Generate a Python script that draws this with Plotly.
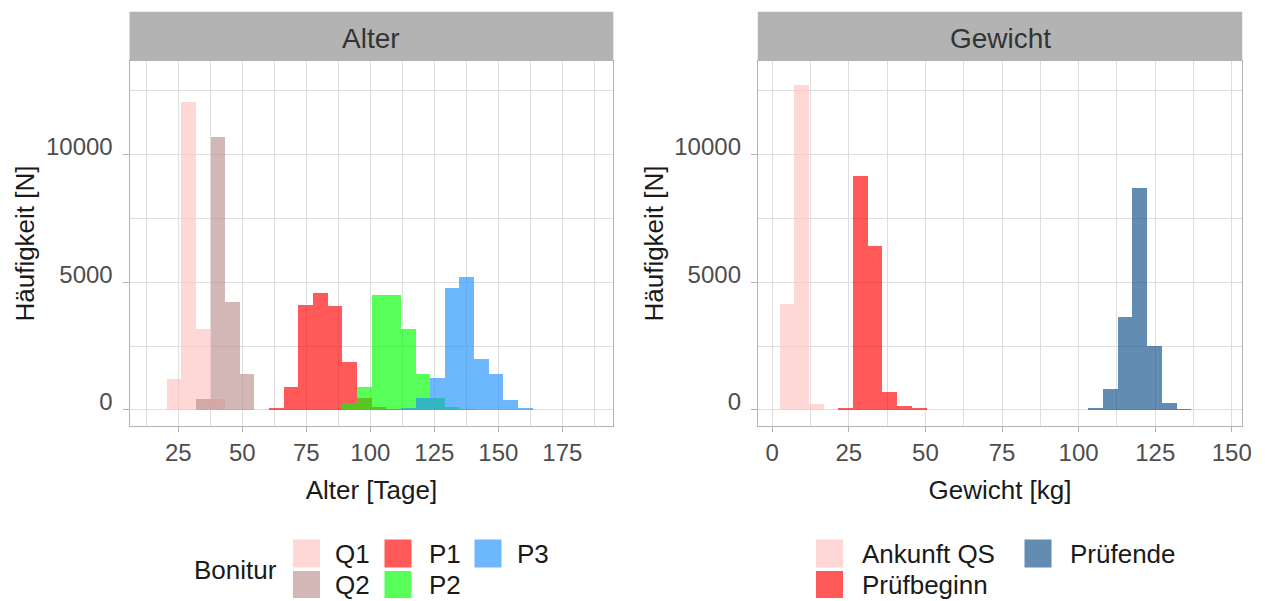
import plotly.graph_objects as go

# ---- Histogram data: counts per bin (30 bins per panel) ----
# Alter [Tage]
alter_bin_start = 14.5
alter_bin_width = 5.72
alter_q1 = [0, 1200, 12060, 3170, 430, 0, 0, 0, 0, 0, 0, 0, 0, 0, 0,
            0, 0, 0, 0, 0, 0, 0, 0, 0, 0, 0, 0, 0, 0, 0]
alter_q2 = [0, 0, 0, 430, 10680, 4215, 1420, 0, 0, 0, 0, 0, 0, 0, 0,
            0, 0, 0, 0, 0, 0, 0, 0, 0, 0, 0, 0, 0, 0, 0]
alter_p1 = [0, 0, 0, 0, 0, 0, 0, 0, 90, 913, 4090, 4568, 4080, 1892, 460,
            100, 40, 0, 0, 0, 0, 0, 0, 0, 0, 0, 0, 0, 0, 0]
alter_p2 = [0, 0, 0, 0, 0, 0, 0, 0, 0, 0, 0, 0, 0, 275, 900,
            4500, 4490, 3158, 1409, 460, 100, 40, 0, 0, 0, 0, 0, 0, 0, 0]
alter_p3 = [0, 0, 0, 0, 0, 0, 0, 0, 0, 0, 0, 0, 0, 0, 0,
            0, 0, 65, 460, 1260, 4763, 5194, 1984, 1409, 400, 65, 0, 0, 0, 0]

# Gewicht [kg]
gewicht_bin_start = 2.3
gewicht_bin_width = 4.8
gewicht_ankunft = [4150, 12724, 222, 0, 0, 0, 0, 0, 0, 0, 0, 0, 0, 0, 0,
                   0, 0, 0, 0, 0, 0, 0, 0, 0, 0, 0, 0, 0, 0, 0]
gewicht_pruefbeginn = [0, 0, 0, 0, 65, 9135, 6395, 718, 157, 65, 0, 0, 0, 0, 0,
                       0, 0, 0, 0, 0, 0, 0, 0, 0, 0, 0, 0, 0, 0, 0]
gewicht_pruefende = [0, 0, 0, 0, 0, 0, 0, 0, 0, 0, 0, 0, 0, 0, 0,
                     0, 0, 0, 0, 0, 0, 91, 809, 3641, 8679, 2493, 261, 52, 0, 0]

alter_groups = ["Q1", "Q2", "P1", "P2", "P3"]
gewicht_groups = ["Ankunft QS", "Prüfbeginn", "Prüfende"]

alter_ticks = [25, 50, 75, 100, 125, 150, 175]
gewicht_ticks = [0, 25, 50, 75, 100, 125, 150]
count_ticks = [0, 5000, 10000]
count_tick_labels = ["0", "5000", "10000"]

# ---- Styling ----
ALPHA = 0.65
colors = {
    "Q1": (255, 193, 193),
    "Q2": (188, 143, 143),
    "P1": (255, 0, 0),
    "P2": (0, 255, 0),
    "P3": (30, 144, 255),
    "Ankunft QS": (255, 193, 193),
    "Prüfbeginn": (255, 0, 0),
    "Prüfende": (16, 78, 139),
}


def rgba(name):
    r, g, b = colors[name]
    return f"rgba({r},{g},{b},{ALPHA})"


FONT = "Liberation Sans, Arial, sans-serif"
TICK_COLOR = "#4D4D4D"
TEXT_COLOR = "#1A1A1A"
GRID = "#DEDEDE"
BORDER = "#B3B3B3"

W, H = 1265, 601


def px_x(p):
    return p / W


def px_y(p):
    return 1 - p / H


fig = go.Figure()


def add_hist(counts, start, width, name, xa, ya):
    xs, ys = [], []
    for i, c in enumerate(counts):
        if c > 0:
            xs.append(start + width * (i + 0.5))
            ys.append(c)
    fig.add_trace(go.Bar(
        x=xs, y=ys, width=width, name=name,
        marker=dict(color=rgba(name), line=dict(width=0)),
        xaxis=xa, yaxis=ya, showlegend=False,
        hovertemplate=name + ": %{y}<extra></extra>",
    ))


for name, counts in zip(alter_groups, [alter_q1, alter_q2, alter_p1, alter_p2, alter_p3]):
    add_hist(counts, alter_bin_start, alter_bin_width, name, "x", "y")
for name, counts in zip(gewicht_groups, [gewicht_ankunft, gewicht_pruefbeginn, gewicht_pruefende]):
    add_hist(counts, gewicht_bin_start, gewicht_bin_width, name, "x2", "y2")

# panel geometry (pixels)
PANEL_TOP, PANEL_BOTTOM = 61, 426
STRIP_TOP = 11.7
left_px = (129.5, 613.3)
right_px = (757.8, 1242.2)

y_dom = [px_y(PANEL_BOTTOM), px_y(PANEL_TOP)]
y_range = [-626, 13649]


def xaxis_style(domain, rng, ticks, title, anchor):
    return dict(
        domain=domain, range=rng, anchor=anchor,
        tickmode="array", tickvals=ticks,
        showgrid=True, gridcolor=GRID, gridwidth=1,
        minor=dict(dtick=12.5, tick0=0, showgrid=True, gridcolor=GRID, gridwidth=1, ticklen=0),
        showline=True, mirror=True, linecolor=BORDER, linewidth=1,
        ticks="outside", ticklen=5, tickcolor=BORDER, tickwidth=1,
        tickfont=dict(family=FONT, size=24, color=TICK_COLOR),
        zeroline=False, automargin=False,
        title=dict(text=title, font=dict(family=FONT, size=26, color=TEXT_COLOR), standoff=16),
    )


def yaxis_style(anchor):
    return dict(
        domain=y_dom, range=y_range, anchor=anchor,
        tickmode="array", tickvals=count_ticks, ticktext=count_tick_labels,
        showgrid=True, gridcolor=GRID, gridwidth=1,
        minor=dict(dtick=2500, tick0=0, showgrid=True, gridcolor=GRID, gridwidth=1, ticklen=0),
        showline=True, mirror=True, linecolor=BORDER, linewidth=1,
        ticks="outside", ticklen=6, tickcolor=BORDER, tickwidth=1,
        ticklabelshift=-8, ticklabelstandoff=5,
        tickfont=dict(family=FONT, size=24, color=TICK_COLOR),
        zeroline=False, automargin=False,
        title=dict(text="Häufigkeit [N]", font=dict(family=FONT, size=26, color=TEXT_COLOR), standoff=3),
    )


fig.update_layout(
    width=W, height=H,
    margin=dict(l=0, r=0, t=0, b=0),
    paper_bgcolor="white", plot_bgcolor="white",
    barmode="overlay", bargap=0,
    showlegend=False,
    font=dict(family=FONT, color=TEXT_COLOR),
    xaxis=xaxis_style([px_x(left_px[0]), px_x(left_px[1])], [5.94, 194.9], alter_ticks, "Alter [Tage]", "y"),
    yaxis=yaxis_style("x"),
    xaxis2=xaxis_style([px_x(right_px[0]), px_x(right_px[1])], [-4.73, 153.4], gewicht_ticks, "Gewicht [kg]", "y2"),
    yaxis2=yaxis_style("x2"),
)

shapes = []
annotations = []

# facet strips
for (x0, x1), label in [(left_px, "Alter"), (right_px, "Gewicht")]:
    shapes.append(dict(type="rect", xref="paper", yref="paper",
                       x0=px_x(x0), x1=px_x(x1), y0=px_y(PANEL_TOP), y1=px_y(STRIP_TOP),
                       fillcolor="#B3B3B3", line=dict(width=0), layer="below"))
    annotations.append(dict(xref="paper", yref="paper", x=px_x((x0 + x1) / 2),
                            y=px_y((PANEL_TOP + STRIP_TOP) / 2 + 2), text=label, showarrow=False,
                            xanchor="center", yanchor="middle",
                            font=dict(family=FONT, size=28, color="#333333")))

# legends (key squares + labels)
ROW_Y = [(539.5, 567.5), (571.0, 598.0)]


def legend_item(name, key_x0, row, label_x):
    y0, y1 = ROW_Y[row]
    shapes.append(dict(type="rect", xref="paper", yref="paper",
                       x0=px_x(key_x0), x1=px_x(key_x0 + 27), y0=px_y(y1), y1=px_y(y0),
                       fillcolor=rgba(name), line=dict(width=0)))
    annotations.append(dict(xref="paper", yref="paper", x=px_x(label_x), y=px_y((y0 + y1) / 2),
                            text=name, showarrow=False, xanchor="left", yanchor="middle",
                            font=dict(family=FONT, size=26, color=TEXT_COLOR)))


annotations.append(dict(xref="paper", yref="paper", x=px_x(192), y=px_y(570),
                        text="Bonitur", showarrow=False, xanchor="left", yanchor="middle",
                        font=dict(family=FONT, size=26, color=TEXT_COLOR)))
legend_item("Q1", 293, 0, 333)
legend_item("Q2", 293, 1, 333)
legend_item("P1", 384.5, 0, 427)
legend_item("P2", 384.5, 1, 427)
legend_item("P3", 474.5, 0, 515)

legend_item("Ankunft QS", 816, 0, 860)
legend_item("Prüfbeginn", 816, 1, 860)
legend_item("Prüfende", 1024.5, 0, 1068)

fig.update_layout(shapes=shapes, annotations=annotations)

fig.write_html("out.html")
